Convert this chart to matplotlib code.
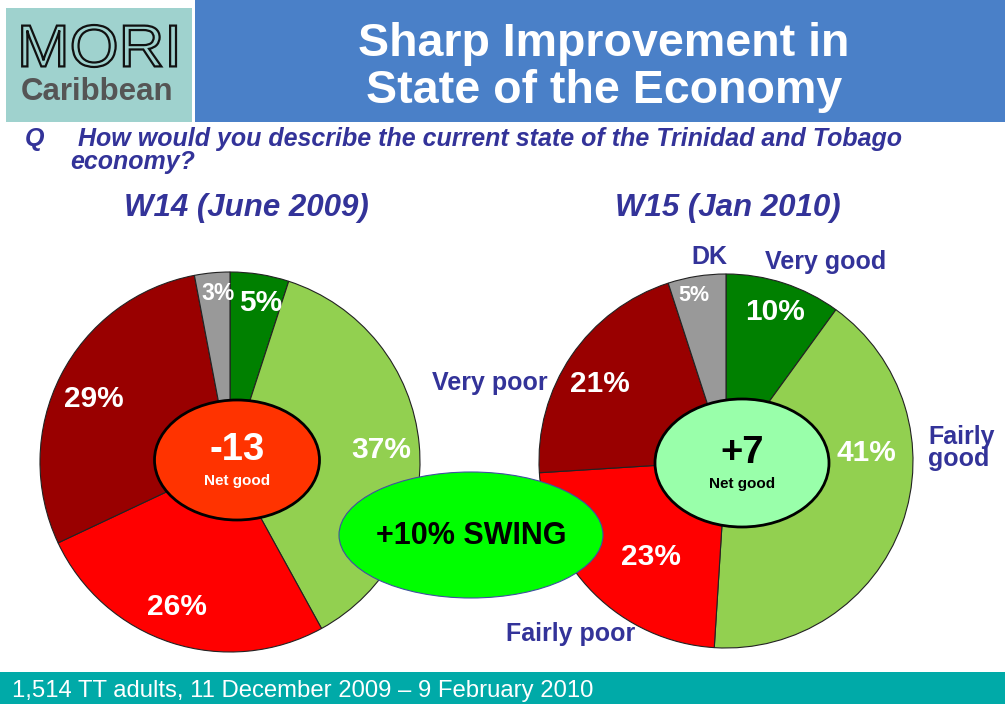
import matplotlib
matplotlib.use("Agg")
import matplotlib.pyplot as plt
import matplotlib.patches as patches
from matplotlib.textpath import TextPath
from matplotlib.font_manager import FontProperties
from matplotlib.transforms import Affine2D
import numpy as np

# ---- data ----
categories = ["Very good", "Fairly good", "Fairly poor", "Very poor", "DK"]
w14_values = [5, 37, 26, 29, 3]
w15_values = [10, 41, 23, 21, 5]
wave_titles = ["W14 (June 2009)", "W15 (Jan 2010)"]
net_good = [-13, 7]
swing = 10

slice_colors = ["#008000", "#92d050", "#ff0000", "#990000", "#999999"]
NAVY = "#333399"
TEAL_LIGHT = "#9fd2ce"
W, H = 1005, 704

plt.rcParams["font.family"] = ["Liberation Sans", "DejaVu Sans"]

fig = plt.figure(figsize=(W / 100, H / 100), dpi=100)
ax = fig.add_axes([0, 0, 1, 1])


def fy(y):
    # pixel row (from top) -> data y
    return H - y


def draw_pie(values, cx, cy, r, dists, offsets, sizes):
    ax.pie(values, colors=slice_colors, startangle=90, counterclock=False,
           center=(cx, fy(cy)), radius=r, frame=True,
           wedgeprops=dict(edgecolor="#222222", linewidth=0.8))
    cum = np.cumsum([0] + values[:-1])
    for v, c0, d, off, s in zip(values, cum, dists, offsets, sizes):
        ang = np.deg2rad(90 - 360 * (c0 + v / 2) / 100 - off)
        ax.text(cx + d * r * np.cos(ang), fy(cy) + d * r * np.sin(ang), f"{v}%",
                color="white", fontsize=s, fontweight="bold", ha="center", va="center", zorder=5)


# pies
draw_pie(w14_values, 230, 462, 190, [0.85, 0.80, 0.81, 0.79, 0.89],
         [2, 1, 2, -2, 1.5], [21.5, 21.5, 21.5, 21.5, 16.5])
draw_pie(w15_values, 726, 461, 187, [0.84, 0.75, 0.65, 0.79, 0.90],
         [0, -23, -7, -3, -2], [21.5, 21.5, 21.5, 21.5, 15.5])

# net good ellipses
for (ex, ey, ew, eh, fc, tc), n in zip([(237, 460, 165, 120, "#ff3300", "white"),
                                         (742, 463, 174, 128, "#99ffaa", "black")], net_good):
    ax.add_patch(patches.Ellipse((ex, fy(ey)), ew, eh, facecolor=fc, edgecolor="black",
                                 linewidth=2, zorder=6))
    ax.text(ex, fy(ey - 10), f"{n:+d}", color=tc, fontsize=27.5, fontweight="bold",
            ha="center", va="center", zorder=7)
    ax.text(ex, fy(ey + 21), "Net good", color=tc, fontsize=11, fontweight="bold",
            ha="center", va="center", zorder=7)

# swing ellipse
ax.add_patch(patches.Ellipse((471, fy(535)), 264, 126, facecolor="#00ff00", edgecolor="#4050a0",
                             linewidth=0.8, zorder=8))
ax.text(471, fy(536), f"+{swing}% SWING", fontsize=22, fontweight="bold", color="black",
        ha="center", va="center", zorder=9)

# category labels around right pie
lab_kw = dict(color=NAVY, fontsize=18, fontweight="bold", va="center", zorder=10)
ax.text(709, fy(257), categories[4], ha="center", **lab_kw)
ax.text(826, fy(262), categories[0], ha="center", **lab_kw)
ax.text(928, fy(448), "Fairly\ngood", ha="left", linespacing=0.9, **lab_kw)
ax.text(490, fy(383), categories[3], ha="center", **lab_kw)
ax.text(571, fy(634), categories[2], ha="center", **lab_kw)

# wave titles
for x, t in zip([246, 728], wave_titles):
    ax.text(x, fy(208), t, color=NAVY, fontsize=22.5, fontweight="bold", style="italic",
            ha="center", va="center")

# header
ax.add_patch(patches.Rectangle((6, fy(122)), 186, 114, facecolor=TEAL_LIGHT, edgecolor="none"))
ax.add_patch(patches.Rectangle((195, fy(122)), 810, 122, facecolor="#4a80c8", edgecolor="none"))
ax.text(604, fy(56), "Sharp Improvement in", color="white", fontsize=33.5, fontweight="bold",
        ha="center", va="baseline")
ax.text(604, fy(103), "State of the Economy", color="white", fontsize=33.5, fontweight="bold",
        ha="center", va="baseline")

# logo outlined "MORI"
tp = TextPath((0, 0), "MORI", size=10, prop=FontProperties(family="Liberation Sans"))
vx, vy = tp.vertices[:, 0], tp.vertices[:, 1]
sx = (176 - 17) / (vx.max() - vx.min())
sy = (67 - 25) / (vy.max() - vy.min())
tr = Affine2D().translate(-vx.min(), -vy.min()).scale(sx, sy).translate(17, fy(67))
ax.add_patch(patches.PathPatch(tr.transform_path(tp), facecolor=TEAL_LIGHT, edgecolor="#111111",
                               linewidth=1.6))
ax.text(97, fy(100), "Caribbean", color="#555555", fontsize=22.5, fontweight="bold",
        ha="center", va="baseline")

# question
q_kw = dict(color=NAVY, fontsize=18, fontweight="bold", style="italic", va="baseline")
ax.text(25, fy(146), "Q", **q_kw)
ax.text(78, fy(146), "How would you describe the current state of the Trinidad and Tobago", **q_kw)
ax.text(70, fy(169), "economy?", **q_kw)

# footer
ax.add_patch(patches.Rectangle((0, 0), W, 32, facecolor="#00aaa8", edgecolor="none"))
ax.text(12, fy(691), "1,514 TT adults, 11 December 2009 \u2013 9 February 2010", color="white",
        fontsize=17.2, ha="left", va="center")

ax.set_xlim(0, W)
ax.set_ylim(0, H)
ax.set_aspect("auto")
ax.axis("off")

fig.savefig("out.png", dpi=100)
